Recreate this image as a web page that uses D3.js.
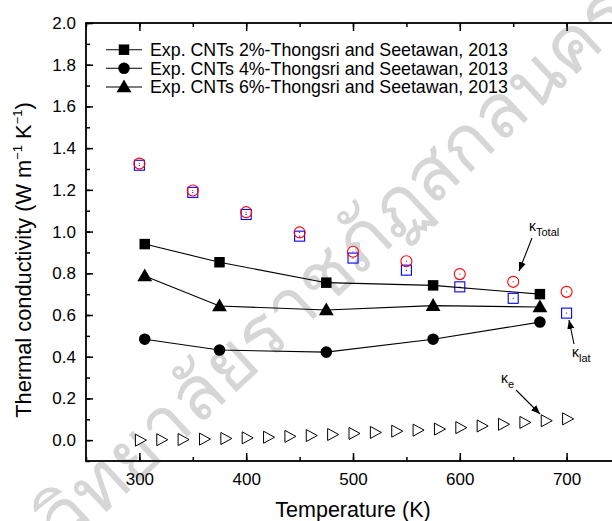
<!DOCTYPE html>
<html>
<head>
<meta charset="utf-8">
<script src="https://cdn.jsdelivr.net/npm/d3@7"></script>
<style>
  html, body { margin: 0; padding: 0; background: #fff; }
  svg { display: block; font-family: "Liberation Sans", Arial, sans-serif; }
</style>
</head>
<body>
<svg id="chart" width="612" height="521"></svg>
<script>
// Experimental CNT series (Thongsri and Seetawan, 2013)
const expTemps = [305, 375, 475, 575, 675];
const cnt2 = [0.94, 0.853, 0.755, 0.742, 0.70];
const cnt4 = [0.484, 0.432, 0.422, 0.484, 0.566];
const cnt6 = [0.787, 0.643, 0.624, 0.645, 0.638];

// Calculated conductivities
const calcTemps = [300, 350, 400, 450, 500, 550, 600, 650, 700];
const kTotal = [1.326, 1.197, 1.093, 0.996, 0.903, 0.858, 0.796, 0.759, 0.711];
const kLat = [1.318, 1.188, 1.082, 0.978, 0.873, 0.815, 0.735, 0.680, 0.609];

// Electronic contribution
const eTemps = [300, 320, 340, 360, 380, 400, 420, 440, 460, 480, 500,
                520, 540, 560, 580, 600, 620, 640, 660, 680, 700];
const kE = [0.000, 0.002, 0.003, 0.005, 0.008, 0.011, 0.014, 0.018, 0.022, 0.027, 0.032,
            0.037, 0.043, 0.048, 0.053, 0.060, 0.068, 0.076, 0.085, 0.093, 0.102];

const xTicks = [300, 400, 500, 600, 700];
const yTicks = [0.0, 0.2, 0.4, 0.6, 0.8, 1.0, 1.2, 1.4, 1.6, 1.8, 2.0];

const legendLabels = [
  "Exp. CNTs 2%-Thongsri and Seetawan, 2013",
  "Exp. CNTs 4%-Thongsri and Seetawan, 2013",
  "Exp. CNTs 6%-Thongsri and Seetawan, 2013"
];

const svg = d3.select("#chart");
const W = 612, H = 521;
const pLeft = 86, pRight = 620, pTop = 23, pBottom = 461;

const x = d3.scaleLinear().domain([250, 750]).range([pLeft, pRight]);
const y = d3.scaleLinear().domain([-0.1, 2.0]).range([pBottom, pTop]);

svg.append("rect").attr("width", W).attr("height", H).attr("fill", "#fff");

// faint diagonal institutional watermark running corner to corner
svg.append("text")
  .attr("transform", "translate(622,4) rotate(-43)")
  .attr("text-anchor", "end")
  .attr("dominant-baseline", "middle")
  .attr("font-family", "'Noto Sans', 'DejaVu Sans', sans-serif")
  .attr("font-size", 75)
  .attr("fill", "#d6d6d6")
  .text("มหาวิทยาลัยราชภัฏสกลนคร");

// axes: major and minor ticks pointing inward on all four sides
const tickFont = 17;
function styleAxis(g) {
  g.select(".domain").remove();
  g.selectAll(".tick line").attr("stroke", "#000").attr("stroke-width", 1.5);
  g.selectAll(".tick text").attr("font-size", tickFont).attr("fill", "#000")
    .attr("font-family", "'Liberation Sans', Arial, sans-serif");
}
const xMinor = d3.range(250, 751, 50);
const yMinor = d3.range(-0.1, 2.001, 0.1).map(v => +v.toFixed(2));

svg.append("g").attr("transform", `translate(0,${pBottom})`)
  .call(d3.axisBottom(x).tickValues(xMinor).tickSize(-4).tickFormat(""))
  .call(styleAxis);
svg.append("g").attr("transform", `translate(0,${pBottom})`)
  .call(d3.axisBottom(x).tickValues(xTicks).tickSize(-8).tickPadding(12).tickFormat(d3.format("d")))
  .call(styleAxis);
svg.append("g").attr("transform", `translate(0,${pTop})`)
  .call(d3.axisTop(x).tickValues(xMinor).tickSize(-4).tickFormat(""))
  .call(styleAxis);
svg.append("g").attr("transform", `translate(0,${pTop})`)
  .call(d3.axisTop(x).tickValues(xTicks).tickSize(-8).tickFormat(""))
  .call(styleAxis);
svg.append("g").attr("transform", `translate(${pLeft},0)`)
  .call(d3.axisLeft(y).tickValues(yMinor).tickSize(-4).tickFormat(""))
  .call(styleAxis);
svg.append("g").attr("transform", `translate(${pLeft},0)`)
  .call(d3.axisLeft(y).tickValues(yTicks).tickSize(-7).tickPadding(10).tickFormat(d3.format(".1f")))
  .call(styleAxis);
svg.append("g").attr("transform", `translate(${pRight},0)`)
  .call(d3.axisRight(y).tickValues(yTicks).tickSize(-7).tickFormat(""))
  .call(styleAxis);

svg.append("rect")
  .attr("x", pLeft).attr("y", pTop)
  .attr("width", pRight - pLeft).attr("height", pBottom - pTop)
  .attr("fill", "none").attr("stroke", "#000").attr("stroke-width", 1.8);

// axis titles
svg.append("text")
  .attr("x", (pLeft + pRight) / 2).attr("y", 517)
  .attr("text-anchor", "middle").attr("font-size", 21.5)
  .text("Temperature (K)");

const yTitle = svg.append("text")
  .attr("transform", `translate(31,${(pTop + pBottom) / 2 + 18}) rotate(-90)`)
  .attr("text-anchor", "middle").attr("font-size", 21.8);
yTitle.append("tspan").text("Thermal conductivity (W m");
yTitle.append("tspan").attr("font-size", 13).attr("dy", -9).text("\u22121");
yTitle.append("tspan").attr("dy", 9).text(" K");
yTitle.append("tspan").attr("font-size", 13).attr("dy", -9).text("\u22121");
yTitle.append("tspan").attr("dy", 9).text(")");

// markers
const sym = {
  square: d3.symbol().type(d3.symbolSquare).size(110),
  circle: d3.symbol().type(d3.symbolCircle).size(105),
  triangle: d3.symbol().type(d3.symbolTriangle).size(95)
};

const expSeries = [
  { vals: cnt2, shape: "square" },
  { vals: cnt4, shape: "circle" },
  { vals: cnt6, shape: "triangle" }
];

// electronic contribution: open right-pointing triangles
const triRight = "M-5,-6 L6,0 L-5,6 Z";
svg.append("g").selectAll("path")
  .data(eTemps.map((t, i) => [t, kE[i]]))
  .join("path")
  .attr("transform", d => `translate(${x(d[0]) + 1},${y(d[1])})`)
  .attr("d", triRight)
  .attr("fill", "#fff").attr("stroke", "#000").attr("stroke-width", 1);

// lattice: open blue squares with centre dot
const latG = svg.append("g");
calcTemps.forEach((t, i) => {
  latG.append("rect")
    .attr("x", x(t) - 5).attr("y", y(kLat[i]) - 5)
    .attr("width", 10).attr("height", 10)
    .attr("fill", "none").attr("stroke", "#0000ff").attr("stroke-width", 1.1);
  latG.append("circle").attr("cx", x(t)).attr("cy", y(kLat[i])).attr("r", 0.6).attr("fill", "#0000ff");
});

// total: open red circles with centre dot
const totG = svg.append("g");
calcTemps.forEach((t, i) => {
  totG.append("circle")
    .attr("cx", x(t)).attr("cy", y(kTotal[i])).attr("r", 5.5)
    .attr("fill", "none").attr("stroke", "#ff0000").attr("stroke-width", 1.1);
  totG.append("circle").attr("cx", x(t)).attr("cy", y(kTotal[i])).attr("r", 0.6).attr("fill", "#ff0000");
});

// experimental series: connecting lines and filled markers
const line = d3.line().x(d => x(d[0])).y(d => y(d[1]));
expSeries.forEach(s => {
  const pts = expTemps.map((t, i) => [t, s.vals[i]]);
  svg.append("path").datum(pts).attr("d", line)
    .attr("fill", "none").attr("stroke", "#000").attr("stroke-width", 1.1);
  svg.append("g").selectAll("path").data(pts).join("path")
    .attr("transform", d => `translate(${x(d[0])},${y(d[1]) + (s.shape === "triangle" ? 1 : 0)})`)
    .attr("d", sym[s.shape]).attr("fill", "#000");
});

// legend
const legendY = [49.7, 68.3, 87];
expSeries.forEach((s, i) => {
  const g = svg.append("g").attr("transform", `translate(0,${legendY[i]})`);
  g.append("line").attr("x1", 106).attr("x2", 142).attr("y1", 0).attr("y2", 0)
    .attr("stroke", "#000").attr("stroke-width", 1.1);
  g.append("path").attr("transform", `translate(124,${s.shape === "triangle" ? 1 : 0})`)
    .attr("d", sym[s.shape]).attr("fill", "#000");
  g.append("text").attr("x", 150).attr("y", 6.3).attr("font-size", 17.8)
    .text(legendLabels[i]);
});

// annotation arrows
const defs = svg.append("defs");
defs.append("marker").attr("id", "arrowhead")
  .attr("viewBox", "0 0 10 10").attr("refX", 10).attr("refY", 5)
  .attr("markerWidth", 9).attr("markerHeight", 9).attr("orient", "auto")
  .attr("markerUnits", "userSpaceOnUse")
  .append("path").attr("d", "M0,1 L10,5 L0,9 Z").attr("fill", "#000");

function annot(tx, ty, main, sub, x1, y1, x2, y2) {
  const t = svg.append("text").attr("x", tx).attr("y", ty).attr("font-size", 14);
  t.append("tspan").text(main);
  t.append("tspan").attr("font-size", 11).attr("dy", 5).text(sub);
  svg.append("line").attr("x1", x1).attr("y1", y1).attr("x2", x2).attr("y2", y2)
    .attr("stroke", "#000").attr("stroke-width", 1.1).attr("marker-end", "url(#arrowhead)");
}
annot(529, 231, "\u03ba", "Total", 532, 238, 519, 271);
annot(572, 357, "\u03ba", "lat", 574, 344, 569, 320);
annot(501, 383, "\u03ba", "e", 516, 390, 540, 414);
</script>
</body>
</html>
